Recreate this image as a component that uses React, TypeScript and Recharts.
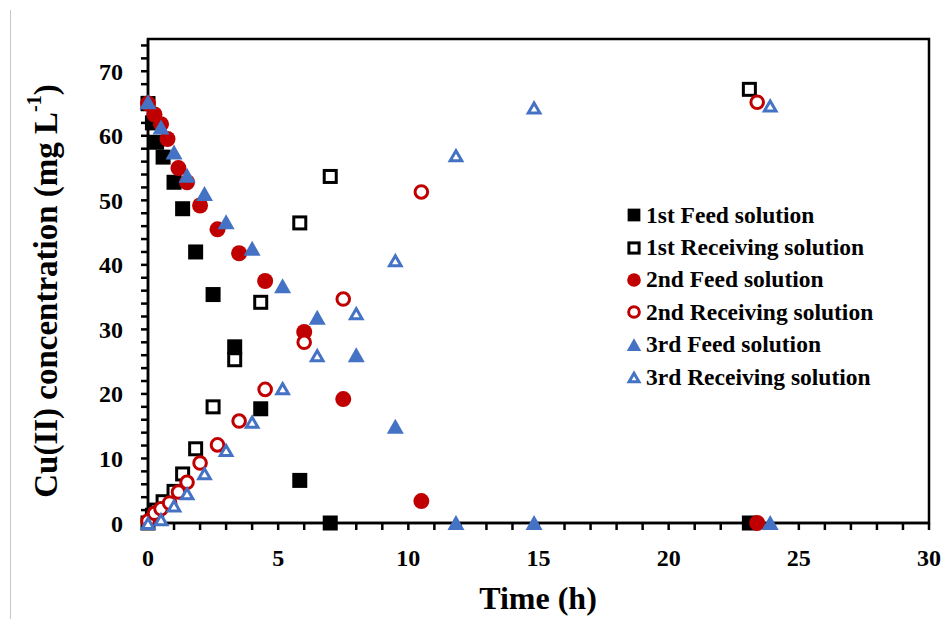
import {
  ReferenceArea,
  Scatter,
  ScatterChart,
  XAxis,
  YAxis,
  Legend,
} from "recharts";

// Time (h) and Cu(II) concentration (mg/L)
const feed1Time = [0, 0.17, 0.33, 0.58, 1, 1.33, 1.83, 2.5, 3.33, 4.33, 5.83, 7, 23.1];
const feed1Conc = [65, 62, 59, 56.7, 52.8, 48.7, 42, 35.4, 27.3, 17.7, 6.6, 0, 0];
const recv1Time = [0, 0.17, 0.33, 0.58, 1, 1.33, 1.83, 2.5, 3.33, 4.33, 5.83, 7, 23.1];
const recv1Conc = [0, 1.2, 2, 3.3, 4.9, 7.6, 11.5, 18, 25.3, 34.2, 46.5, 53.7, 67.2];

const feed2Time = [0, 0.25, 0.5, 0.75, 1.17, 1.5, 2, 2.67, 3.5, 4.5, 6, 7.5, 10.5, 23.4];
const feed2Conc = [65, 63.3, 61.8, 59.5, 55, 52.8, 49.2, 45.5, 41.8, 37.5, 29.6, 19.2, 3.4, 0];
const recv2Time = [0, 0.25, 0.5, 0.83, 1.17, 1.5, 2, 2.67, 3.5, 4.5, 6, 7.5, 10.5, 23.4];
const recv2Conc = [0.3, 1.5, 2.2, 3.1, 4.8, 6.3, 9.3, 12.1, 15.8, 20.7, 28, 34.7, 51.3, 65.2];

const run3Time = [0, 0.5, 1, 1.5, 2.17, 3, 4, 5.17, 6.5, 8, 9.5, 11.83, 14.83, 23.9];
const feed3Conc = [65.2, 61.3, 57.4, 53.8, 51, 46.6, 42.5, 36.7, 31.8, 26, 14.9, 0, 0, 0];
const recv3Conc = [0, 0.6, 2.7, 4.6, 7.7, 11.3, 15.7, 20.9, 26, 32.5, 40.7, 57, 64.4, 64.7];

const xTicks = Array.from({ length: 31 }, (_, i) => i);
const yTicks = Array.from({ length: 38 }, (_, i) => i * 2);

const RED = "#C00000";
const BLUE = "#4472C4";
const FONT = '"Liberation Serif", "Times New Roman", serif';

const toPoints = (t: number[], c: number[]) => t.map((x, i) => ({ t: x, c: c[i] }));

type Kind = "square" | "circle" | "triangle";

function mark(kind: Kind, color: string, open: boolean, cx: number, cy: number, s = 1) {
  if (kind === "square") {
    return open ? (
      <rect x={cx - 6 * s} y={cy - 6 * s} width={12 * s} height={12 * s} fill="#fff" stroke={color} strokeWidth={3} />
    ) : (
      <rect x={cx - 7.5 * s} y={cy - 7.5 * s} width={15 * s} height={15 * s} fill={color} />
    );
  }
  if (kind === "circle") {
    return open ? (
      <circle cx={cx} cy={cy} r={6.3 * s} fill="#fff" stroke={color} strokeWidth={3} />
    ) : (
      <circle cx={cx} cy={cy} r={8 * s} fill={color} />
    );
  }
  return open ? (
    <polygon
      points={`${cx},${cy - 4.5 * s} ${cx + 5.8 * s},${cy + 5.5 * s} ${cx - 5.8 * s},${cy + 5.5 * s}`}
      fill="#fff"
      stroke={color}
      strokeWidth={3}
    />
  ) : (
    <polygon
      points={`${cx},${cy - 8 * s} ${cx + 8.5 * s},${cy + 7 * s} ${cx - 8.5 * s},${cy + 7 * s}`}
      fill={color}
    />
  );
}

const series = [
  { name: "1st Feed solution", kind: "square" as Kind, color: "#000", open: false, data: toPoints(feed1Time, feed1Conc) },
  { name: "1st Receiving solution", kind: "square" as Kind, color: "#000", open: true, data: toPoints(recv1Time, recv1Conc) },
  { name: "2nd Feed solution", kind: "circle" as Kind, color: RED, open: false, data: toPoints(feed2Time, feed2Conc) },
  { name: "2nd Receiving solution", kind: "circle" as Kind, color: RED, open: true, data: toPoints(recv2Time, recv2Conc) },
  { name: "3rd Feed solution", kind: "triangle" as Kind, color: BLUE, open: false, data: toPoints(run3Time, feed3Conc) },
  { name: "3rd Receiving solution", kind: "triangle" as Kind, color: BLUE, open: true, data: toPoints(run3Time, recv3Conc) },
];

function LegendBox() {
  return (
    <div style={{ fontFamily: FONT, fontWeight: "bold", fontSize: 23.5, color: "#000" }}>
      {series.map((s) => (
        <div key={s.name} style={{ display: "flex", alignItems: "center", height: 32.4, whiteSpace: "nowrap" }}>
          <svg width={18} height={18} style={{ marginRight: 3 }}>
            {mark(s.kind, s.color, s.open, 9, 9, 0.85)}
          </svg>
          <span>{s.name}</span>
        </div>
      ))}
    </div>
  );
}

export default function App() {
  return (
    <div style={{ position: "relative", width: 941, height: 619, background: "#fff" }}>
      <style>{`body{margin:0}`}</style>
      <div style={{ position: "absolute", left: 10, top: 10, width: 1, height: 609, background: "#c8c8c8" }} />
      <ScatterChart width={941} height={619} margin={{ top: 39, right: 12, bottom: 0, left: 0 }}>
        <XAxis
          type="number"
          dataKey="t"
          domain={[0, 30]}
          ticks={xTicks}
          interval={0}
          height={96}
          tickSize={7}
          tickMargin={19}
          axisLine={{ stroke: "#000", strokeWidth: 2.5 }}
          tickLine={{ stroke: "#000", strokeWidth: 2.5 }}
          tick={{ fontSize: 24, fontWeight: "bold", fill: "#000", fontFamily: FONT }}
          tickFormatter={(v: number) => (v % 5 === 0 ? String(v) : "")}
          label={{
            content: () => (
              <text x={538} y={609} textAnchor="middle" fontSize={32} fontWeight="bold" fontFamily={FONT} fill="#000">
                Time (h)
              </text>
            ),
          }}
        />
        <YAxis
          type="number"
          dataKey="c"
          domain={[0, 75]}
          ticks={yTicks}
          interval={0}
          width={148}
          tickSize={7}
          tickMargin={18}
          axisLine={{ stroke: "#000", strokeWidth: 2.5 }}
          tickLine={{ stroke: "#000", strokeWidth: 2.5 }}
          tick={{ fontSize: 24, fontWeight: "bold", fill: "#000", fontFamily: FONT }}
          tickFormatter={(v: number) => (v % 10 === 0 ? String(v) : "")}
          label={{
            content: () => (
              <text
                x={46}
                y={291}
                transform="rotate(-90, 46, 291)"
                textAnchor="middle"
                dominantBaseline="central"
                fontSize={33}
                fontWeight="bold"
                fontFamily={FONT}
                fill="#000"
              >
                Cu(II) concentration (mg L
                <tspan fontSize={20} dy={-12}>-1</tspan>
                <tspan dy={12}>)</tspan>
              </text>
            ),
          }}
        />
        <ReferenceArea x1={0} x2={30} y1={0} y2={75} fill="none" stroke="#000" strokeWidth={2.5} ifOverflow="visible" />
        {series.map((s) => (
          <Scatter
            key={s.name}
            name={s.name}
            data={s.data}
            isAnimationActive={false}
            shape={(p: any) => mark(s.kind, s.color, s.open, p.cx, p.cy)}
          />
        ))}
        <Legend
          layout="vertical"
          align="center"
          verticalAlign="middle"
          content={() => <LegendBox />}
          wrapperStyle={{ position: "absolute", left: 625, top: 199, width: 300 }}
        />
      </ScatterChart>
    </div>
  );
}
